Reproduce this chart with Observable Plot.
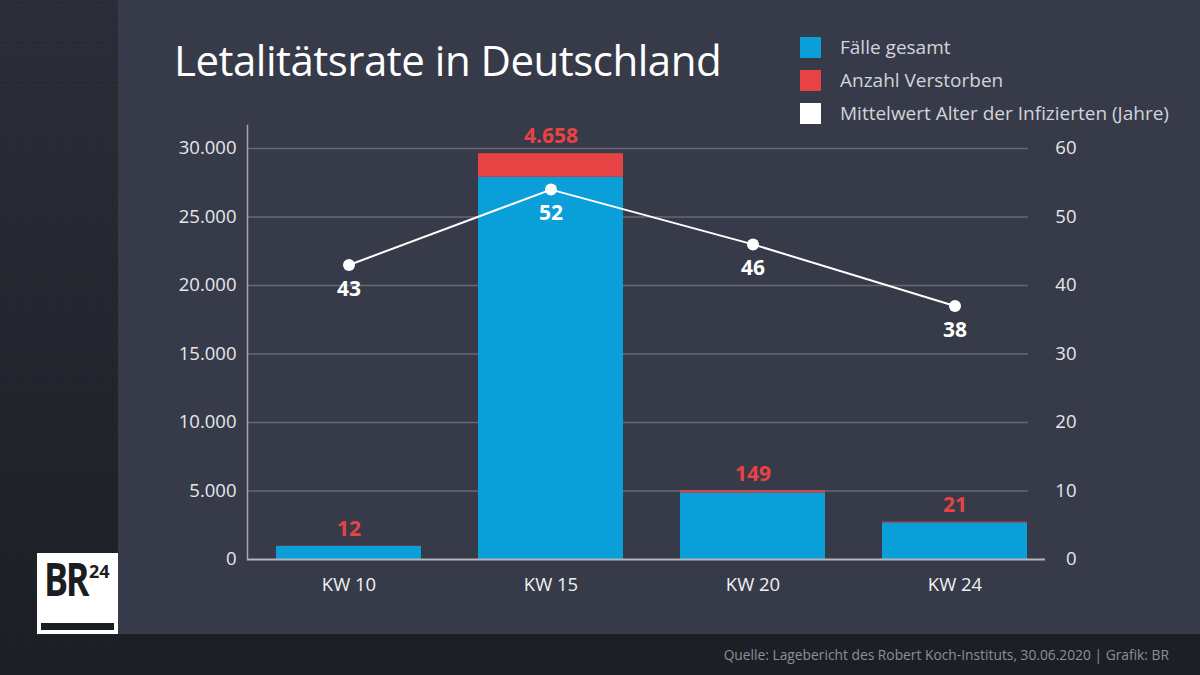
<!DOCTYPE html>
<html><head><meta charset="utf-8">
<script src="https://cdn.jsdelivr.net/npm/d3@7"></script>
<script src="https://cdn.jsdelivr.net/npm/@observablehq/plot@0.6"></script>
<style>
html,body{margin:0;padding:0;}
body{width:1200px;height:675px;position:relative;overflow:hidden;background:#1d1f26;font-family:"Open Sans",sans-serif;}
#left{position:absolute;left:0;top:0;width:118px;height:675px;background:linear-gradient(#2b2e38,#1d1f26);}
#leftdots{position:absolute;left:0;top:0;width:118px;height:675px;
 background-image:radial-gradient(rgba(0,0,0,0.22) 0.8px, transparent 1px);background-size:5px 5px;}
#bottom{position:absolute;left:118px;top:634px;width:1082px;height:41px;background:#1d1f26;}
#panel{position:absolute;left:118px;top:0;width:1082px;height:634px;background:#373b49;}
#chart{position:absolute;left:0;top:0;}
#title{position:absolute;left:174px;top:31px;font-size:42px;color:#fff;font-weight:400;white-space:nowrap;letter-spacing:-0.5px;}
.leg{position:absolute;left:800px;width:21px;height:21px;}
.legt{position:absolute;left:840px;font-size:19px;color:#d2d4da;white-space:nowrap;line-height:21px;}
#caption{position:absolute;right:31px;top:645px;font-size:13.8px;color:#8c8f98;white-space:nowrap;}
#logo{position:absolute;left:37px;top:553px;width:81px;height:81px;background:#fff;}
#logo .br{position:absolute;left:7px;top:0px;font-size:46px;line-height:50px;height:50px;font-weight:700;color:#1b1d22;letter-spacing:-3px;transform:scaleX(0.78);transform-origin:left top;white-space:nowrap;}
#logo .n{position:absolute;left:52px;top:8px;font-size:18px;line-height:20px;font-weight:700;color:#1b1d22;}
#logo .bar{position:absolute;left:4px;top:70px;width:73px;height:7px;background:#1b1d22;}
</style></head>
<body>
<div id="left"></div>
<div id="leftdots"></div>
<div id="panel"></div>
<div id="bottom"></div>
<div id="logo"><span class="br">BR</span><span class="n">24</span><div class="bar"></div></div>
<div id="chart"></div>
<div id="title">Letalitätsrate in Deutschland</div>
<div class="leg" style="top:37px;background:#0a9fd8"></div>
<div class="legt" style="top:37px">Fälle gesamt</div>
<div class="leg" style="top:70px;background:#e84344"></div>
<div class="legt" style="top:70px">Anzahl Verstorben</div>
<div class="leg" style="top:103px;background:#ffffff"></div>
<div class="legt" style="top:103px">Mittelwert Alter der Infizierten (Jahre)</div>
<div id="caption">Quelle: Lagebericht des Robert Koch-Instituts, 30.06.2020 | Grafik: BR</div>
<script>
// Data
const weeks = ["KW 10", "KW 15", "KW 20", "KW 24"];
const casesTotal = [950, 27900, 4860, 2670];          // blue bar heights
const deathsBarHeight = [12, 1720, 149, 60];           // red segment heights as drawn
const deathsLabel = [12, 4658, 149, 21];               // printed death counts
const agePosition = [43, 54, 46, 37];                  // line point positions (right axis)
const ageLabel = [43, 52, 46, 38];                     // printed mean ages
const leftTicks = [0, 5000, 10000, 15000, 20000, 25000, 30000];
const rightTicks = [0, 10, 20, 30, 40, 50, 60];

const RATIO = 500; // 30000 / 60
const de = d3.formatLocale({decimal: ",", thousands: ".", grouping: [3], currency: ["", " €"]});
const fmt = de.format(",");

const data = weeks.map((w, i) => ({
  kw: w, cases: casesTotal[i], top: casesTotal[i] + deathsBarHeight[i],
  deaths: deathsLabel[i], agePos: agePosition[i] * RATIO, age: ageLabel[i]
}));

const blue = "#0a9fd8", red = "#e84344";

const chart = Plot.plot({
  width: 1200,
  height: 634,
  marginLeft: 247,
  marginRight: 143,
  marginTop: 148,
  marginBottom: 75,
  style: {background: "transparent", fontFamily: "'Open Sans', sans-serif", overflow: "visible"},
  x: {domain: weeks, paddingInner: 0.28, paddingOuter: 0.14, align: 0.5, label: null},
  y: {domain: [0, 30000], label: null},
  marks: [
    Plot.ruleY(leftTicks.filter(d => d > 0), {stroke: "#666a75", strokeWidth: 1.5, insetRight: 29}),
    Plot.frame({anchor: "left", stroke: "#a4a6ad", strokeWidth: 1.5, insetTop: -23}),
    Plot.barY(data, {x: "kw", y1: 0, y2: "cases", fill: blue}),
    Plot.barY(data, {x: "kw", y1: "cases", y2: "top", fill: red}),
    Plot.ruleY([0], {stroke: "#b4b6bc", strokeWidth: 2, insetRight: 12}),
    Plot.text(data, {x: "kw", y: "top", text: d => fmt(d.deaths), dy: -17, fill: red,
      fontSize: 21, fontWeight: 700}),
    Plot.line(data, {x: "kw", y: "agePos", stroke: "#ffffff", strokeWidth: 2}),
    Plot.dot(data, {x: "kw", y: "agePos", r: 6, fill: "#ffffff"}),
    Plot.text(data, {x: "kw", y: "agePos", text: d => String(d.age), dy: 24, fill: "#ffffff",
      fontSize: 21, fontWeight: 700}),
    Plot.axisY(leftTicks, {anchor: "left", tickSize: 0, tickPadding: 11, tickFormat: fmt,
      fontSize: 18.5, fill: "#e6e7ea", label: null}),
    Plot.axisY(rightTicks.map(d => d * RATIO), {anchor: "right", tickSize: 0, tickPadding: 19,
      tickFormat: d => String(d / RATIO), textAnchor: "end", fontSize: 18.5, fill: "#e6e7ea", label: null}),
    Plot.axisX({anchor: "bottom", tickSize: 0, tickPadding: 18, fontSize: 18.5, fill: "#f0f1f3", label: null})
  ]
});
document.getElementById("chart").appendChild(chart);
</script>
</body></html>
